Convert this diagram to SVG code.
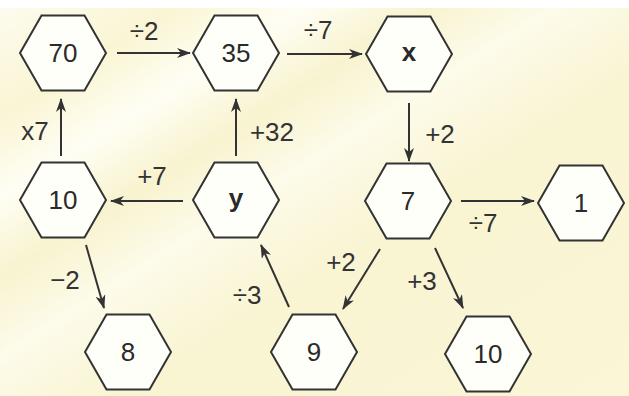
<svg xmlns="http://www.w3.org/2000/svg" width="629" height="396" viewBox="0 0 629 396">
<defs>
<linearGradient id="bg" x1="0" y1="0" x2="1" y2="1">
<stop offset="0" stop-color="#fdfcf0"/>
<stop offset="0.15" stop-color="#faf5d4"/>
<stop offset="0.25" stop-color="#fffef4"/>
<stop offset="0.35" stop-color="#f8f3cf"/>
<stop offset="0.45" stop-color="#fdfbea"/>
<stop offset="0.6" stop-color="#f9f4d2"/>
<stop offset="1" stop-color="#faf6d6"/>
</linearGradient>
<marker id="ah" viewBox="0 0 14 10" refX="13" refY="5" markerWidth="14" markerHeight="10" markerUnits="userSpaceOnUse" orient="auto">
<path d="M0,0 L14,5 L0,10 L4,5 z" fill="#333"/>
</marker>
<polygon id="hex" points="-43,0 -21.5,-37.5 21.5,-37.5 43,0 21.5,37.5 -21.5,37.5"/>
</defs>
<style>
.hex{fill:#fffffa;stroke:#333;stroke-width:2}
.num{font-family:"Liberation Sans",Arial,sans-serif;font-size:26px;fill:#2a2a2a;text-anchor:middle;dominant-baseline:central}
.var{font-weight:bold}
.lbl{font-family:"Liberation Sans",Arial,sans-serif;font-size:26px;fill:#333;text-anchor:middle;dominant-baseline:central}
.arr{stroke:#333;stroke-width:2;fill:none;marker-end:url(#ah)}
</style>
<rect x="0" y="0" width="629" height="396" fill="url(#bg)"/>
<rect x="0" y="0" width="629" height="8" fill="#ffffff"/>
<g id="connectors">
<line class="arr" x1="117" y1="53" x2="190" y2="53"/>
<line class="arr" x1="287" y1="54" x2="362" y2="54"/>
<line class="arr" x1="409" y1="103" x2="409" y2="161"/>
<line class="arr" x1="236" y1="156" x2="236" y2="99"/>
<line class="arr" x1="61" y1="156" x2="61" y2="99"/>
<line class="arr" x1="183" y1="201" x2="111" y2="201"/>
<line class="arr" x1="86" y1="245" x2="104" y2="308"/>
<line class="arr" x1="289" y1="307" x2="261" y2="245"/>
<line class="arr" x1="461" y1="201" x2="534" y2="201"/>
<line class="arr" x1="380" y1="249" x2="343" y2="309"/>
<line class="arr" x1="435" y1="248" x2="463" y2="308"/>
<text class="lbl" x="144" y="31">÷2</text>
<text class="lbl" x="318" y="30">÷7</text>
<text class="lbl" x="440" y="134">+2</text>
<text class="lbl" x="272" y="132">+32</text>
<text class="lbl" x="35" y="131">x7</text>
<text class="lbl" x="152" y="176">+7</text>
<text class="lbl" x="65" y="280">−2</text>
<text class="lbl" x="247" y="295">÷3</text>
<text class="lbl" x="483" y="223">÷7</text>
<text class="lbl" x="341" y="262">+2</text>
<text class="lbl" x="422" y="281">+3</text>
</g>
<g id="n70"><use href="#hex" class="hex" x="63" y="53"/><text class="num" x="63" y="53">70</text></g>
<g id="n35"><use href="#hex" class="hex" x="236" y="53"/><text class="num" x="236" y="53">35</text></g>
<g id="nx"><use href="#hex" class="hex" x="409" y="54"/><text class="num var" x="409" y="52">x</text></g>
<g id="n10a"><use href="#hex" class="hex" x="63" y="200"/><text class="num" x="63" y="200">10</text></g>
<g id="ny"><use href="#hex" class="hex" x="236" y="200"/><text class="num var" x="236" y="198">y</text></g>
<g id="n7"><use href="#hex" class="hex" x="408" y="201"/><text class="num" x="408" y="201">7</text></g>
<g id="n1"><use href="#hex" class="hex" x="581" y="203"/><text class="num" x="581" y="203">1</text></g>
<g id="n8"><use href="#hex" class="hex" x="128" y="352"/><text class="num" x="128" y="352">8</text></g>
<g id="n9"><use href="#hex" class="hex" x="314" y="352"/><text class="num" x="314" y="352">9</text></g>
<g id="n10b"><use href="#hex" class="hex" x="488" y="354"/><text class="num" x="488" y="354">10</text></g>
</svg>
